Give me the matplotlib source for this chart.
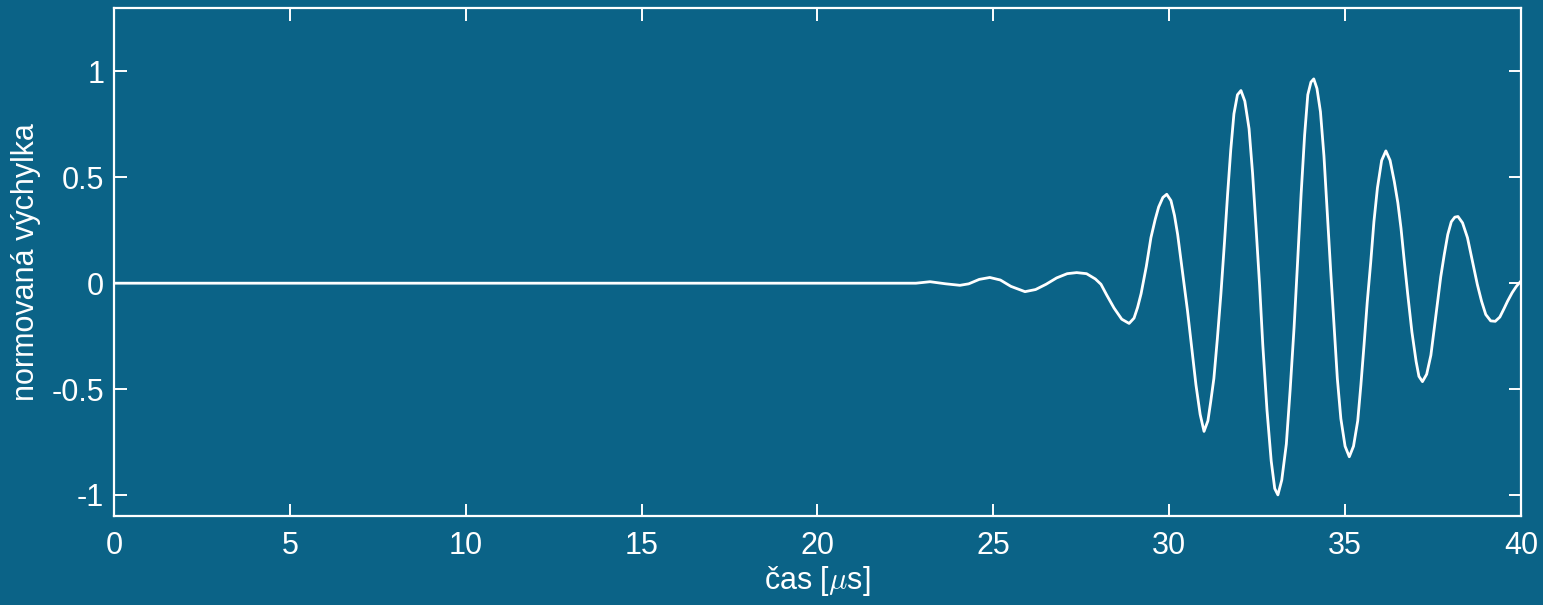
import matplotlib
matplotlib.use("Agg")
import matplotlib.pyplot as plt

# --- dane ---
cas = [0, 10, 20, 22.0, 22.8, 23.2, 23.65, 24.05, 24.3, 24.6, 24.9, 25.2, 25.5, 25.9, 26.2,
       26.5, 26.8, 27.1, 27.37, 27.65, 27.9, 28.06, 28.22, 28.43, 28.65, 28.86, 29.0, 29.1,
       29.2, 29.35, 29.48, 29.6, 29.7, 29.82, 29.93, 30.05, 30.15, 30.24, 30.38, 30.52,
       30.65, 30.76, 30.88, 30.99, 31.1, 31.18, 31.27, 31.37, 31.47, 31.57, 31.66, 31.75,
       31.84, 31.94, 32.04, 32.15, 32.27, 32.37, 32.47, 32.57, 32.66, 32.78, 32.9, 33.0,
       33.09, 33.2, 33.33, 33.44, 33.55, 33.65, 33.75, 33.85, 33.94, 34.03, 34.11, 34.2,
       34.3, 34.4, 34.49, 34.59, 34.69, 34.78, 34.88, 35.0, 35.12, 35.24, 35.36, 35.45,
       35.54, 35.63, 35.73, 35.82, 35.92, 36.04, 36.16, 36.28, 36.4, 36.5, 36.59, 36.68,
       36.78, 36.9, 37.02, 37.1, 37.2, 37.32, 37.44, 37.53, 37.63, 37.72, 37.82, 37.92,
       38.02, 38.12, 38.21, 38.34, 38.48, 38.62, 38.76, 38.88, 39.0, 39.14, 39.27, 39.4,
       39.52, 39.62, 39.75, 39.87, 40.0]
vychylka = [0, 0, 0, 0.0, 0.0, 0.007, -0.003, -0.01, -0.003, 0.018, 0.027, 0.015, -0.015, -0.04, -0.03,
            -0.005, 0.025, 0.045, 0.05, 0.045, 0.02, -0.005, -0.055, -0.117, -0.17, -0.19, -0.165, -0.115,
            -0.05, 0.08, 0.215, 0.30, 0.36, 0.405, 0.42, 0.39, 0.32, 0.23, 0.05, -0.13,
            -0.32, -0.48, -0.62, -0.70, -0.65, -0.56, -0.45, -0.26, -0.05, 0.19, 0.42, 0.63,
            0.80, 0.89, 0.91, 0.86, 0.73, 0.52, 0.26, -0.01, -0.29, -0.60, -0.84, -0.97,
            -1.0, -0.93, -0.76, -0.50, -0.21, 0.10, 0.42, 0.70, 0.89, 0.95, 0.965, 0.92,
            0.81, 0.60, 0.34, 0.06, -0.21, -0.45, -0.64, -0.77, -0.82, -0.77, -0.65, -0.48,
            -0.29, -0.09, 0.10, 0.29, 0.45, 0.58, 0.625, 0.58, 0.48, 0.38, 0.26, 0.11,
            -0.05, -0.23, -0.37, -0.44, -0.465, -0.43, -0.34, -0.22, -0.085, 0.03, 0.135, 0.23,
            0.29, 0.312, 0.315, 0.285, 0.215, 0.105, -0.006, -0.085, -0.148, -0.178, -0.18, -0.16,
            -0.12, -0.085, -0.045, -0.015, 0.01]
xticks = [0, 5, 10, 15, 20, 25, 30, 35, 40]
yticks = [-1, -0.5, 0, 0.5, 1]
ytick_labels = ["-1", "-0.5", "0", "0.5", "1"]

BG = "#0b6387"
plt.rcParams["font.family"] = ["Liberation Sans", "DejaVu Sans"]
plt.rcParams["mathtext.fontset"] = "cm"

fig = plt.figure(figsize=(15.43, 6.05), dpi=100, facecolor=BG)
ax = fig.add_axes([0.0739, 0.147, 0.9118, 0.8398], facecolor=BG)

ax.plot(cas, vychylka, color="white", linewidth=2.0)

ax.set_xlim(0, 40)
ax.set_ylim(-1.1, 1.3)
ax.set_xticks(xticks)
ax.set_yticks(yticks)
ax.set_yticklabels(ytick_labels)

for s in ax.spines.values():
    s.set_color("white")
    s.set_linewidth(1.6)
ax.tick_params(direction="in", length=9, width=1.4, color="white", labelcolor="white",
               labelsize=22, top=True, right=True, pad=7)
ax.tick_params(axis="x", pad=11)

ax.set_xlabel(r"čas [$\mu$s]", color="white", fontsize=22, labelpad=2)
ax.set_ylabel("normovaná výchylka", color="white", fontsize=22, labelpad=8)

fig.savefig("out.png", dpi=100, facecolor=BG)
